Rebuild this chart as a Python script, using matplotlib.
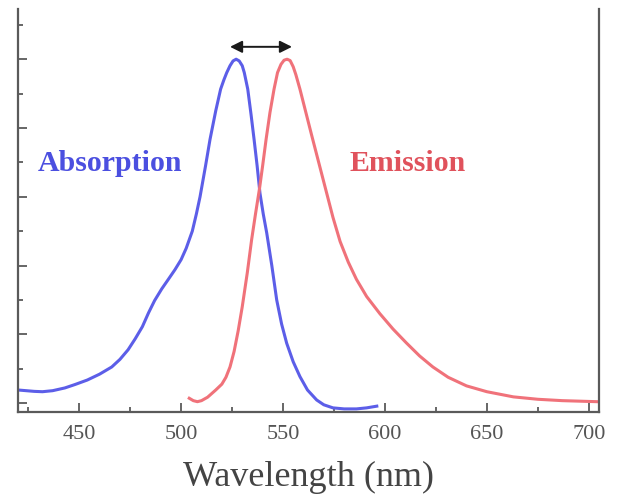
import numpy as np
import matplotlib
matplotlib.use("Agg")
import matplotlib.pyplot as plt
from matplotlib.ticker import MultipleLocator, NullFormatter

# absorption spectrum (wavelength nm, normalised intensity)
abs_wl = [420, 424, 428, 432, 437, 443, 448, 454, 460, 466, 470, 474, 477.5,
          481, 484, 487, 490.5, 494, 497, 500, 502.5, 505.5, 507.5, 509.3, 512,
          514.2, 517, 519.4, 521, 522.4, 524, 525.5, 527, 528.5, 530, 531,
          532.7, 534.3, 535.8, 537.3, 538.7, 540.3, 542, 544.5, 546.9, 549.3,
          551.8, 555, 558.3, 562, 566.5, 570, 574.5, 580, 586, 591, 596]
abs_int = [0.038, 0.036, 0.034, 0.033, 0.036, 0.044, 0.054, 0.067, 0.084, 0.105,
           0.127, 0.155, 0.187, 0.222, 0.262, 0.298, 0.332, 0.362, 0.388, 0.417,
           0.45, 0.50, 0.55, 0.60, 0.69, 0.767, 0.85, 0.913, 0.94, 0.961, 0.981,
           0.995, 1.0, 0.995, 0.981, 0.961, 0.913, 0.84, 0.767, 0.69, 0.61, 0.55,
           0.495, 0.40, 0.30, 0.23, 0.174, 0.12, 0.077, 0.038, 0.009, -0.005,
           -0.014, -0.017, -0.017, -0.014, -0.009]

# emission spectrum
em_wl = [504, 506, 508, 510, 513, 517, 520, 522, 524, 526, 528, 530, 532.5,
         534.6, 536.5, 538.5, 540, 541.7, 543.6, 545.6, 547.3, 549, 550.5, 552,
         553.5, 555, 556.3, 558.3, 561, 564, 567.5, 571, 574.5, 578, 582, 586,
         591, 597.5, 604, 610.5, 617, 623.5, 631, 640, 650, 663, 675, 687, 704]
em_int = [0.014, 0.007, 0.004, 0.007, 0.017, 0.038, 0.055, 0.075, 0.105, 0.15,
          0.21, 0.28, 0.38, 0.475, 0.55, 0.625, 0.69, 0.767, 0.845, 0.913, 0.961,
          0.985, 0.997, 1.0, 0.996, 0.978, 0.955, 0.913, 0.85, 0.78, 0.70, 0.62,
          0.54, 0.47, 0.41, 0.36, 0.31, 0.26, 0.215, 0.175, 0.137, 0.105, 0.075,
          0.050, 0.033, 0.018, 0.011, 0.007, 0.004]

x_ticks = [450, 500, 550, 600, 650, 700]
peak_abs = 524.0
peak_em = 554.4

serif = ["Liberation Serif", "DejaVu Serif"]
spine_col = "#5a5a5a"

fig = plt.figure(figsize=(6.17, 5.02), dpi=100)
ax = fig.add_axes([18 / 617, (502 - 413) / 502, (599 - 18) / 617, (413 - 10) / 502])

ax.plot(abs_wl, abs_int, color="#5c5ee8", lw=2.2, solid_joinstyle="round")
ax.plot(em_wl, em_int, color="#f0727a", lw=2.2, solid_joinstyle="round")

ax.set_xlim(420, 705)
ax.set_ylim(-0.026, 1.146)

# Stokes shift arrow
ax.annotate("", xy=(peak_em, 1.036), xytext=(peak_abs, 1.036),
            arrowprops=dict(arrowstyle="<|-|>", color="#1a1a1a", lw=1.4,
                            mutation_scale=18, shrinkA=0, shrinkB=0))

ax.text(429.9, 0.70, "Absorption", color="#4b4fe0", fontsize=21.5,
        family=serif, weight="bold", ha="left", va="center")
ax.text(582.8, 0.70, "Emission", color="#e0525c", fontsize=21.5,
        family=serif, weight="bold", ha="left", va="center")

ax.set_xticks(x_ticks)
ax.xaxis.set_minor_locator(MultipleLocator(25))
ax.yaxis.set_major_locator(MultipleLocator(0.2))
ax.yaxis.set_minor_locator(MultipleLocator(0.1))
ax.yaxis.set_major_formatter(NullFormatter())
ax.tick_params(which="both", direction="in", color=spine_col, width=1.3)
ax.tick_params(which="major", length=6.5)
ax.tick_params(which="minor", length=3.5)
ax.tick_params(axis="x", labelsize=16, labelcolor="#555555", pad=9)
for lab in ax.get_xticklabels():
    lab.set_family(serif)

ax.spines["top"].set_visible(False)
for s in ["left", "right", "bottom"]:
    ax.spines[s].set_color(spine_col)
    ax.spines[s].set_linewidth(1.6)

ax.set_xlabel("Wavelength (nm)", fontsize=26, family=serif, color="#444444",
              labelpad=12)

fig.savefig("out.png", dpi=100)
